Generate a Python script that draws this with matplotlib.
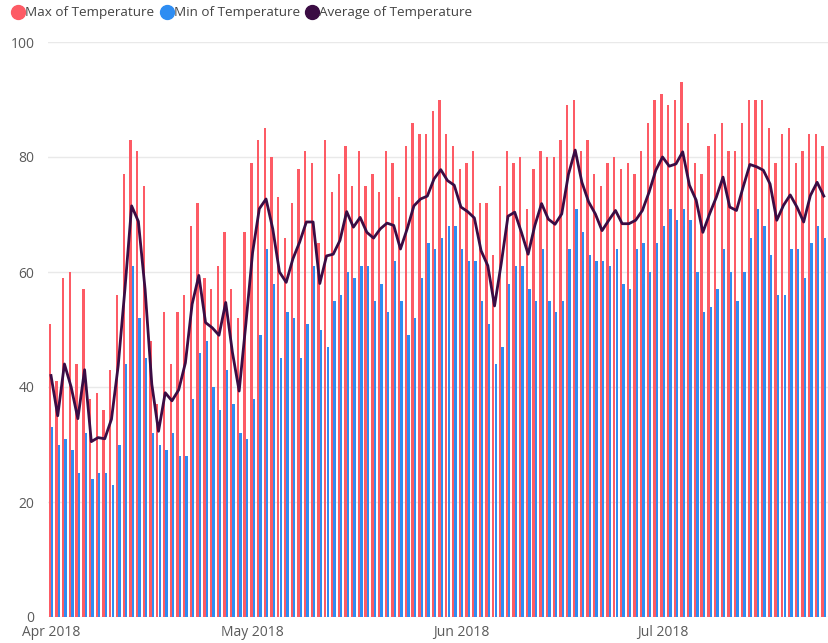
import numpy as np
import pandas as pd
import matplotlib
matplotlib.use("Agg")
import matplotlib.pyplot as plt
import matplotlib.dates as mdates
from matplotlib.lines import Line2D

plt.rcParams['font.family'] = ['Open Sans', 'DejaVu Sans']

# daily temperatures, Apr 1 2018 onwards
max_temp = [51, 41, 59, 60, 44, 57, 38, 39, 36, 43, 56, 77, 83, 81, 75, 48, 37, 53, 44, 53,
            56, 68, 72, 59, 57, 61, 67, 57, 52, 67, 79, 83, 85, 80, 73, 66, 72, 78, 81,
            79, 65, 83, 74, 77, 82, 75, 81, 75, 77, 74, 81, 79, 73, 82, 86, 84, 84, 88, 90,
            84, 82, 78, 79, 81, 72, 72, 63, 75, 81, 79, 80, 71, 78, 81, 80, 80, 83, 89,
            90, 81, 83, 77, 75, 79, 80, 78, 79, 77, 81, 86, 90, 91, 89, 90, 93, 86, 79,
            77, 82, 84, 86, 81, 81, 86, 90, 90, 90, 85, 79, 84, 85, 79, 81, 84, 84, 82]
min_temp = [33, 30, 31, 29, 25, 32, 24, 25, 25, 23, 30, 44, 61, 52, 45, 32, 30, 29, 32, 28,
            28, 38, 46, 48, 40, 36, 43, 37, 32, 31, 38, 49, 64, 58, 45, 53, 52, 45, 51,
            61, 50, 47, 55, 56, 60, 59, 61, 61, 55, 58, 53, 62, 55, 49, 52, 59, 65, 64, 66,
            68, 68, 64, 62, 62, 55, 51, 44, 47, 58, 61, 61, 57, 55, 64, 55, 53, 55, 64,
            71, 67, 63, 62, 62, 61, 64, 58, 57, 64, 65, 60, 65, 68, 71, 69, 71, 69, 60,
            53, 54, 57, 64, 60, 55, 60, 66, 71, 68, 63, 56, 56, 64, 64, 59, 65, 68, 66]
avg_temp = [42, 35, 44, 40, 34.5, 43, 30.5, 31.2, 31, 34.4, 43.7, 57, 71.5, 68.8, 57, 40.5, 32.3, 39, 37.6, 39.5,
            44.2, 54.4, 59.4, 51.2, 50.3, 49, 54.7, 46, 39.3, 51, 63.4, 71, 72.7, 67.5, 60, 58.2, 62.3, 65.2, 68.7,
            68.7, 58, 62.8, 63.1, 65.5, 70.5, 67.8, 69.5, 66.9, 65.9, 67.5, 68.5, 68.1, 64, 67.5, 71.5, 72.7, 73.2, 76.2, 77.8,
            75.9, 75.1, 71.3, 70.5, 69.4, 63.7, 61.1, 54.1, 61.5, 69.7, 70.4, 66.9, 63.1, 68.1, 71.9, 69.2, 68.3, 70.1, 77,
            81.2, 75.6, 72.2, 70.1, 67.2, 69, 70.7, 68.4, 68.4, 69, 70.7, 73.9, 77.7, 80, 78.4, 78.8, 80.9, 75.1, 72.5,
            66.9, 70.1, 73, 76.5, 71.3, 70.7, 74.8, 78.7, 78.3, 77.7, 75.3, 69, 71.6, 73.4, 71.3, 68.7, 73.3, 75.6, 73.2]
dates = pd.date_range('2018-04-01', periods=len(max_temp), freq='D')
tick_dates = pd.to_datetime(['2018-04-01', '2018-05-01', '2018-06-01', '2018-07-01'])
tick_labels = ['Apr 2018', 'May 2018', 'Jun 2018', 'Jul 2018']

red = '#FD5B65'
blue = '#2E8DF2'
purple = '#3B0C44'
txt = '#5A5A5A'

fig = plt.figure(figsize=(8.29, 6.43), dpi=100)
ax = fig.add_axes([48.5 / 829, 1 - 617 / 643, 780.5 / 829, (617 - 42) / 643])

x = mdates.date2num(dates)
w = 0.35
ax.bar(x - 0.18, max_temp, width=w, color=red, zorder=2, linewidth=0)
ax.bar(x + 0.18, min_temp, width=w, color=blue, zorder=2, linewidth=0)
ax.plot(x, avg_temp, color=purple, lw=2.0, zorder=3, solid_joinstyle='round')

ax.set_xlim(x[0] - 0.37, x[-1] + 0.77)
ax.set_ylim(0, 100)
ax.set_yticks([0, 20, 40, 60, 80, 100])
ax.set_xticks(mdates.date2num(tick_dates))
ax.set_xticklabels(tick_labels)
ax.tick_params(axis='y', length=0, pad=10, labelsize=10, labelcolor=txt)
ax.tick_params(axis='x', length=0, pad=6, labelsize=10, labelcolor=txt)
ax.grid(axis='y', color='#E9E9E9', lw=1, zorder=0)
for s in ax.spines.values():
    s.set_visible(False)

handles = [Line2D([], [], marker='o', ls='', color=c, markersize=10)
           for c in (red, blue, purple)]
fig.legend(handles, ['Max of Temperature', 'Min of Temperature', 'Average of Temperature'],
           loc='upper left', bbox_to_anchor=(0.004, 1.005), ncol=3, frameon=False,
           handlelength=0.8, handletextpad=0.1, columnspacing=0.55, borderpad=0.2,
           fontsize=9.7, labelcolor='#444444')

fig.savefig('out.png', dpi=100)
